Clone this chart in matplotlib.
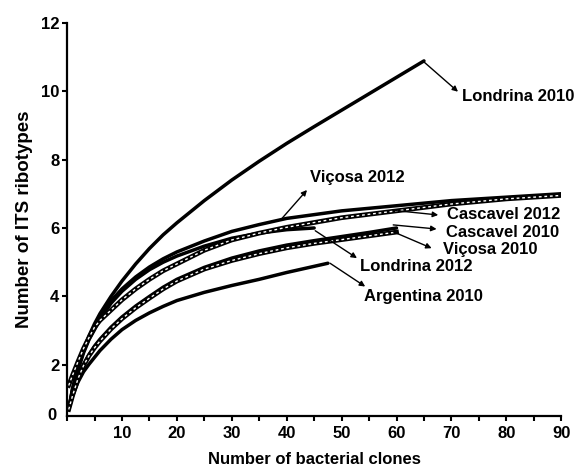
import matplotlib
matplotlib.use("Agg")
import matplotlib.pyplot as plt
from matplotlib.ticker import MultipleLocator

plt.rcParams['font.family'] = ['Liberation Sans', 'DejaVu Sans']
plt.rcParams['font.weight'] = 'bold'

# Rarefaction curves (x = number of bacterial clones, y = number of ITS ribotypes)
lon10_x = [0.3, 1, 2, 3, 4, 5, 6, 8, 10, 12.5, 15, 17.5, 20, 25, 30, 35, 40, 45, 50, 55, 60, 65]
lon10_y = [0.7, 1.3, 1.95, 2.45, 2.85, 3.2, 3.5, 4.0, 4.45, 4.95, 5.4, 5.8, 6.15, 6.8, 7.4, 7.95, 8.47, 8.96, 9.44, 9.92, 10.4, 10.88]

vic12_x = [0.3, 1, 2, 3, 4, 5, 6, 8, 10, 12.5, 15, 17.5, 20, 25, 30, 35, 40, 50, 60, 70, 80, 90]
vic12_y = [0.7, 1.3, 1.9, 2.4, 2.78, 3.07, 3.37, 3.87, 4.22, 4.57, 4.86, 5.1, 5.3, 5.62, 5.9, 6.1, 6.28, 6.5, 6.65, 6.8, 6.9, 7.0]

cas12_x = [0.3, 1, 2, 3, 4, 5, 6, 8, 10, 12.5, 15, 17.5, 20, 25, 30, 35, 40, 50, 60, 70, 80, 90]
cas12_y = [1.4, 1.7, 2.1, 2.48, 2.8, 3.1, 3.3, 3.6, 3.9, 4.22, 4.5, 4.75, 4.95, 5.35, 5.65, 5.85, 6.02, 6.3, 6.5, 6.7, 6.85, 6.95]

lon12_x = [0.3, 1, 2, 3, 4, 5, 6, 8, 10, 12.5, 15, 17.5, 20, 25, 30, 35, 40, 45]
lon12_y = [0.7, 1.25, 1.85, 2.35, 2.74, 3.03, 3.33, 3.8, 4.15, 4.5, 4.78, 5.0, 5.18, 5.47, 5.7, 5.85, 5.95, 6.0]

cas10_x = [0.3, 1, 2, 3, 4, 5, 6, 8, 10, 12.5, 15, 17.5, 20, 25, 30, 35, 40, 45, 50, 55, 60]
cas10_y = [0.7, 1.1, 1.6, 2.0, 2.3, 2.55, 2.75, 3.1, 3.4, 3.72, 4.0, 4.27, 4.5, 4.85, 5.12, 5.33, 5.5, 5.63, 5.75, 5.87, 6.0]

vic10_x = [0.3, 1, 2, 3, 4, 5, 6, 8, 10, 12.5, 15, 17.5, 20, 25, 30, 35, 40, 45, 50, 55, 60]
vic10_y = [0.7, 1.1, 1.6, 1.98, 2.27, 2.5, 2.7, 3.05, 3.35, 3.67, 3.95, 4.22, 4.45, 4.8, 5.05, 5.25, 5.42, 5.55, 5.66, 5.77, 5.88]

arg10_x = [0.3, 1, 2, 3, 4, 5, 6, 8, 10, 12.5, 15, 17.5, 20, 25, 30, 35, 40, 45, 47.5]
arg10_y = [0.7, 1.1, 1.5, 1.8, 2.02, 2.22, 2.42, 2.75, 3.03, 3.3, 3.52, 3.71, 3.88, 4.12, 4.32, 4.5, 4.7, 4.88, 4.97]

x_ticks = [10, 20, 30, 40, 50, 60, 70, 80, 90]
y_ticks = [2, 4, 6, 8, 10, 12]

fig = plt.figure(figsize=(5.78, 4.70), dpi=100)
ax = fig.add_axes([0.116, 0.115, 0.855, 0.837])

lw = 2.5
for xs, ys in [(lon10_x, lon10_y), (vic12_x, vic12_y), (lon12_x, lon12_y),
               (cas10_x, cas10_y), (arg10_x, arg10_y)]:
    ax.plot(xs, ys, color='black', lw=lw, solid_capstyle='round', solid_joinstyle='round')
# dashed curves: black band with white dashes
for xs, ys in [(cas12_x, cas12_y), (vic10_x, vic10_y)]:
    ax.plot(xs, ys, color='black', lw=3.4, solid_joinstyle='round')
    ax.plot(xs, ys, color='white', lw=1.0, dashes=(2, 2))

ax.set_xlim(0, 90)
ax.set_ylim(0.51, 12)
ax.spines['top'].set_visible(False)
ax.spines['right'].set_visible(False)
for s in ['left', 'bottom']:
    ax.spines[s].set_linewidth(1.6)

ax.xaxis.set_minor_locator(MultipleLocator(5))
ax.set_xticks([0] + x_ticks)
ax.set_xticklabels([''] + [str(v) for v in x_ticks])
ax.set_yticks(y_ticks)
ax.set_yticklabels([str(v) for v in y_ticks])
ax.tick_params(axis='both', which='both', direction='out', length=3.5, width=1.5, labelsize=12)
ax.tick_params(axis='x', pad=4)
ax.tick_params(axis='y', pad=2)
for lab in ax.get_xticklabels() + ax.get_yticklabels():
    lab.set_fontweight('bold')

fig.text(52 / 578, 1 - 415 / 470, '0', ha='center', va='center', fontsize=12, fontweight='bold')

ax.set_xlabel('Number of bacterial clones', fontsize=12, fontweight='bold', labelpad=8)
ax.set_ylabel('Number of ITS ribotypes', fontsize=13.5, fontweight='bold', labelpad=6)

ann = [
    ('Londrina 2010', (65.0, 10.85), (71.2, 9.98), (71.9, 9.83)),
    ('Viçosa 2012', (39.2, 6.29), (43.7, 7.11), (44.3, 7.46)),
    ('Cascavel 2012', (59.7, 6.51), (67.6, 6.38), (69.2, 6.38)),
    ('Cascavel 2010', (59.4, 6.09), (67.3, 5.97), (69.0, 5.87)),
    ('Viçosa 2010', (59.4, 5.89), (66.4, 5.41), (68.4, 5.36)),
    ('Londrina 2012', (45.2, 5.92), (52.8, 5.12), (53.4, 4.87)),
    ('Argentina 2010', (47.9, 4.97), (54.3, 4.29), (54.0, 4.0)),
]
for label, tail, head, txt in ann:
    ax.annotate('', xy=head, xytext=tail,
                arrowprops=dict(arrowstyle='-|>', lw=1.0, color='black',
                                mutation_scale=8, shrinkA=0, shrinkB=0))
    ax.text(txt[0], txt[1], label, ha='left', va='center', fontsize=12, fontweight='bold')

fig.savefig('out.png', dpi=100)
